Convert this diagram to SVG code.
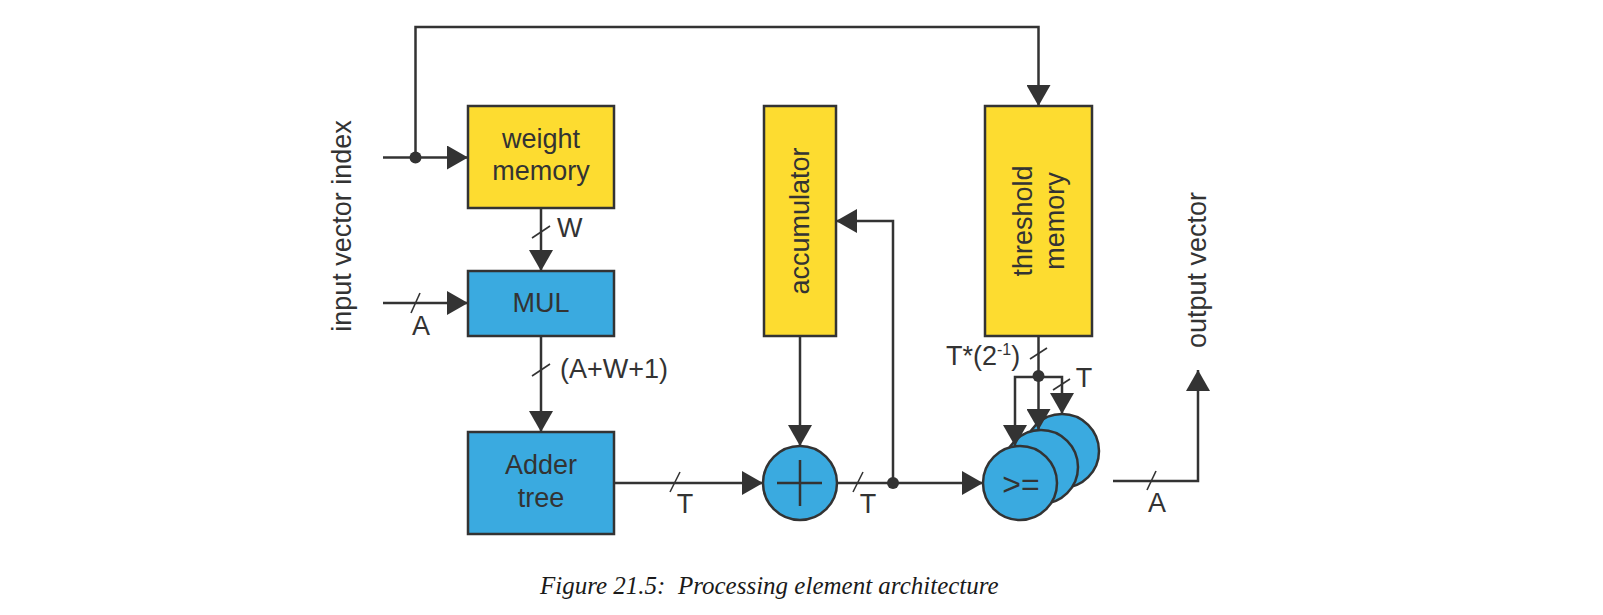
<svg xmlns="http://www.w3.org/2000/svg" width="1603" height="615" viewBox="0 0 1603 615">
<defs>
<style>
.yel{fill:#FDDC30;stroke:#333;stroke-width:2.5}
.blu{fill:#3AAAE0;stroke:#333;stroke-width:2.5}
.ln{fill:none;stroke:#333;stroke-width:2.5}
.tk{fill:none;stroke:#333;stroke-width:1.6}
.t{font-family:"Liberation Sans",Arial,sans-serif;font-size:27px;fill:#333}
.c{text-anchor:middle}
.dot{fill:#333}
.cap{font-family:"Liberation Serif","Times New Roman",serif;font-style:italic;font-size:25px;fill:#1a1a1a}
</style>
<marker id="ah" viewBox="0 0 21 24" refX="21" refY="12" markerWidth="21" markerHeight="24" markerUnits="userSpaceOnUse" orient="auto">
<path d="M0,0 L21,12 L0,24 z" fill="#333"/>
</marker>
</defs>
<rect width="1603" height="615" fill="#fff"/>

<g id="input-vector-index-label">
<text class="t c" transform="translate(351,226) rotate(-90)">input vector index</text>
</g>

<g id="weight-memory">
<rect class="yel" x="468" y="106" width="146" height="102"/>
<text class="t c" x="541" y="148">weight</text>
<text class="t c" x="541" y="180">memory</text>
</g>

<g id="mul">
<rect class="blu" x="468" y="271" width="146" height="65"/>
<text class="t c" x="541" y="312">MUL</text>
</g>

<g id="adder-tree">
<rect class="blu" x="468" y="432" width="146" height="102"/>
<text class="t c" x="541" y="474">Adder</text>
<text class="t c" x="541" y="507">tree</text>
</g>

<g id="accumulator">
<rect class="yel" x="764" y="106" width="72" height="230"/>
<text class="t c" transform="translate(809,221) rotate(-90)">accumulator</text>
</g>

<g id="sum">
<circle class="blu" cx="800" cy="483" r="37"/>
<path class="ln" d="M777,483 H822 M800,460 V506"/>
</g>

<g id="threshold-memory">
<rect class="yel" x="985" y="106" width="107" height="230"/>
<text class="t c" transform="translate(1032,221) rotate(-90)">threshold</text>
<text class="t c" transform="translate(1064,221) rotate(-90)">memory</text>
</g>

<g id="comparators">
<circle class="blu" cx="1062" cy="451" r="37"/>
<circle class="blu" cx="1041" cy="467" r="37"/>
<circle class="blu" cx="1020" cy="483" r="37"/>
<text class="t c" x="1021" y="495" style="font-size:32px">&gt;=</text>
</g>

<g id="output-vector-label">
<text class="t c" transform="translate(1206,270) rotate(-90)">output vector</text>
</g>

<g id="connectors">
<path class="ln" d="M383,157.5 H468" marker-end="url(#ah)"/>
<path class="ln" d="M415.5,157.5 V27 H1038.5 V106" marker-end="url(#ah)"/>
<circle class="dot" cx="415.5" cy="157.5" r="6"/>

<path class="ln" d="M541,208 V271" marker-end="url(#ah)"/>
<path class="tk" d="M532,238 L550,226"/>
<text class="t" x="557" y="237">W</text>

<path class="ln" d="M383,303 H468" marker-end="url(#ah)"/>
<path class="tk" d="M411,313 L420,293"/>
<text class="t c" x="421" y="335">A</text>

<path class="ln" d="M541,336 V432" marker-end="url(#ah)"/>
<path class="tk" d="M532,376 L550,364"/>
<text class="t" x="560" y="378">(A+W+1)</text>

<path class="ln" d="M614,483 H763" marker-end="url(#ah)"/>
<path class="tk" d="M670,492 L680,472"/>
<text class="t c" x="685" y="513">T</text>

<path class="ln" d="M800,336 V446" marker-end="url(#ah)"/>

<path class="ln" d="M837,483 H983" marker-end="url(#ah)"/>
<path class="tk" d="M853,492 L863,472"/>
<text class="t c" x="868" y="513">T</text>
<path class="ln" d="M893,483 V221 H836" marker-end="url(#ah)"/>
<circle class="dot" cx="893" cy="483" r="6"/>

<path class="ln" d="M1038.5,336 V377"/>
<path class="tk" d="M1030,359 L1047,348"/>
<text class="t" x="946" y="365">T*(2<tspan dy="-10" style="font-size:16px">-1</tspan><tspan dy="10">)</tspan></text>
<path class="ln" d="M1038.5,377 H1015 V446" marker-end="url(#ah)"/>
<path class="ln" d="M1038.5,377 V430" marker-end="url(#ah)"/>
<path class="ln" d="M1038.5,377 H1062 V414" marker-end="url(#ah)"/>
<circle class="dot" cx="1038.5" cy="376" r="6"/>
<path class="tk" d="M1053,390 L1070,379"/>
<text class="t c" x="1084" y="387">T</text>

<path class="ln" d="M1113,481 H1198 V370" marker-end="url(#ah)"/>
<path class="tk" d="M1147,490 L1156,471"/>
<text class="t c" x="1157" y="512">A</text>
</g>

<g id="caption">
<text class="cap" x="540" y="594">Figure 21.5:&#160; Processing element architecture</text>
</g>
</svg>
